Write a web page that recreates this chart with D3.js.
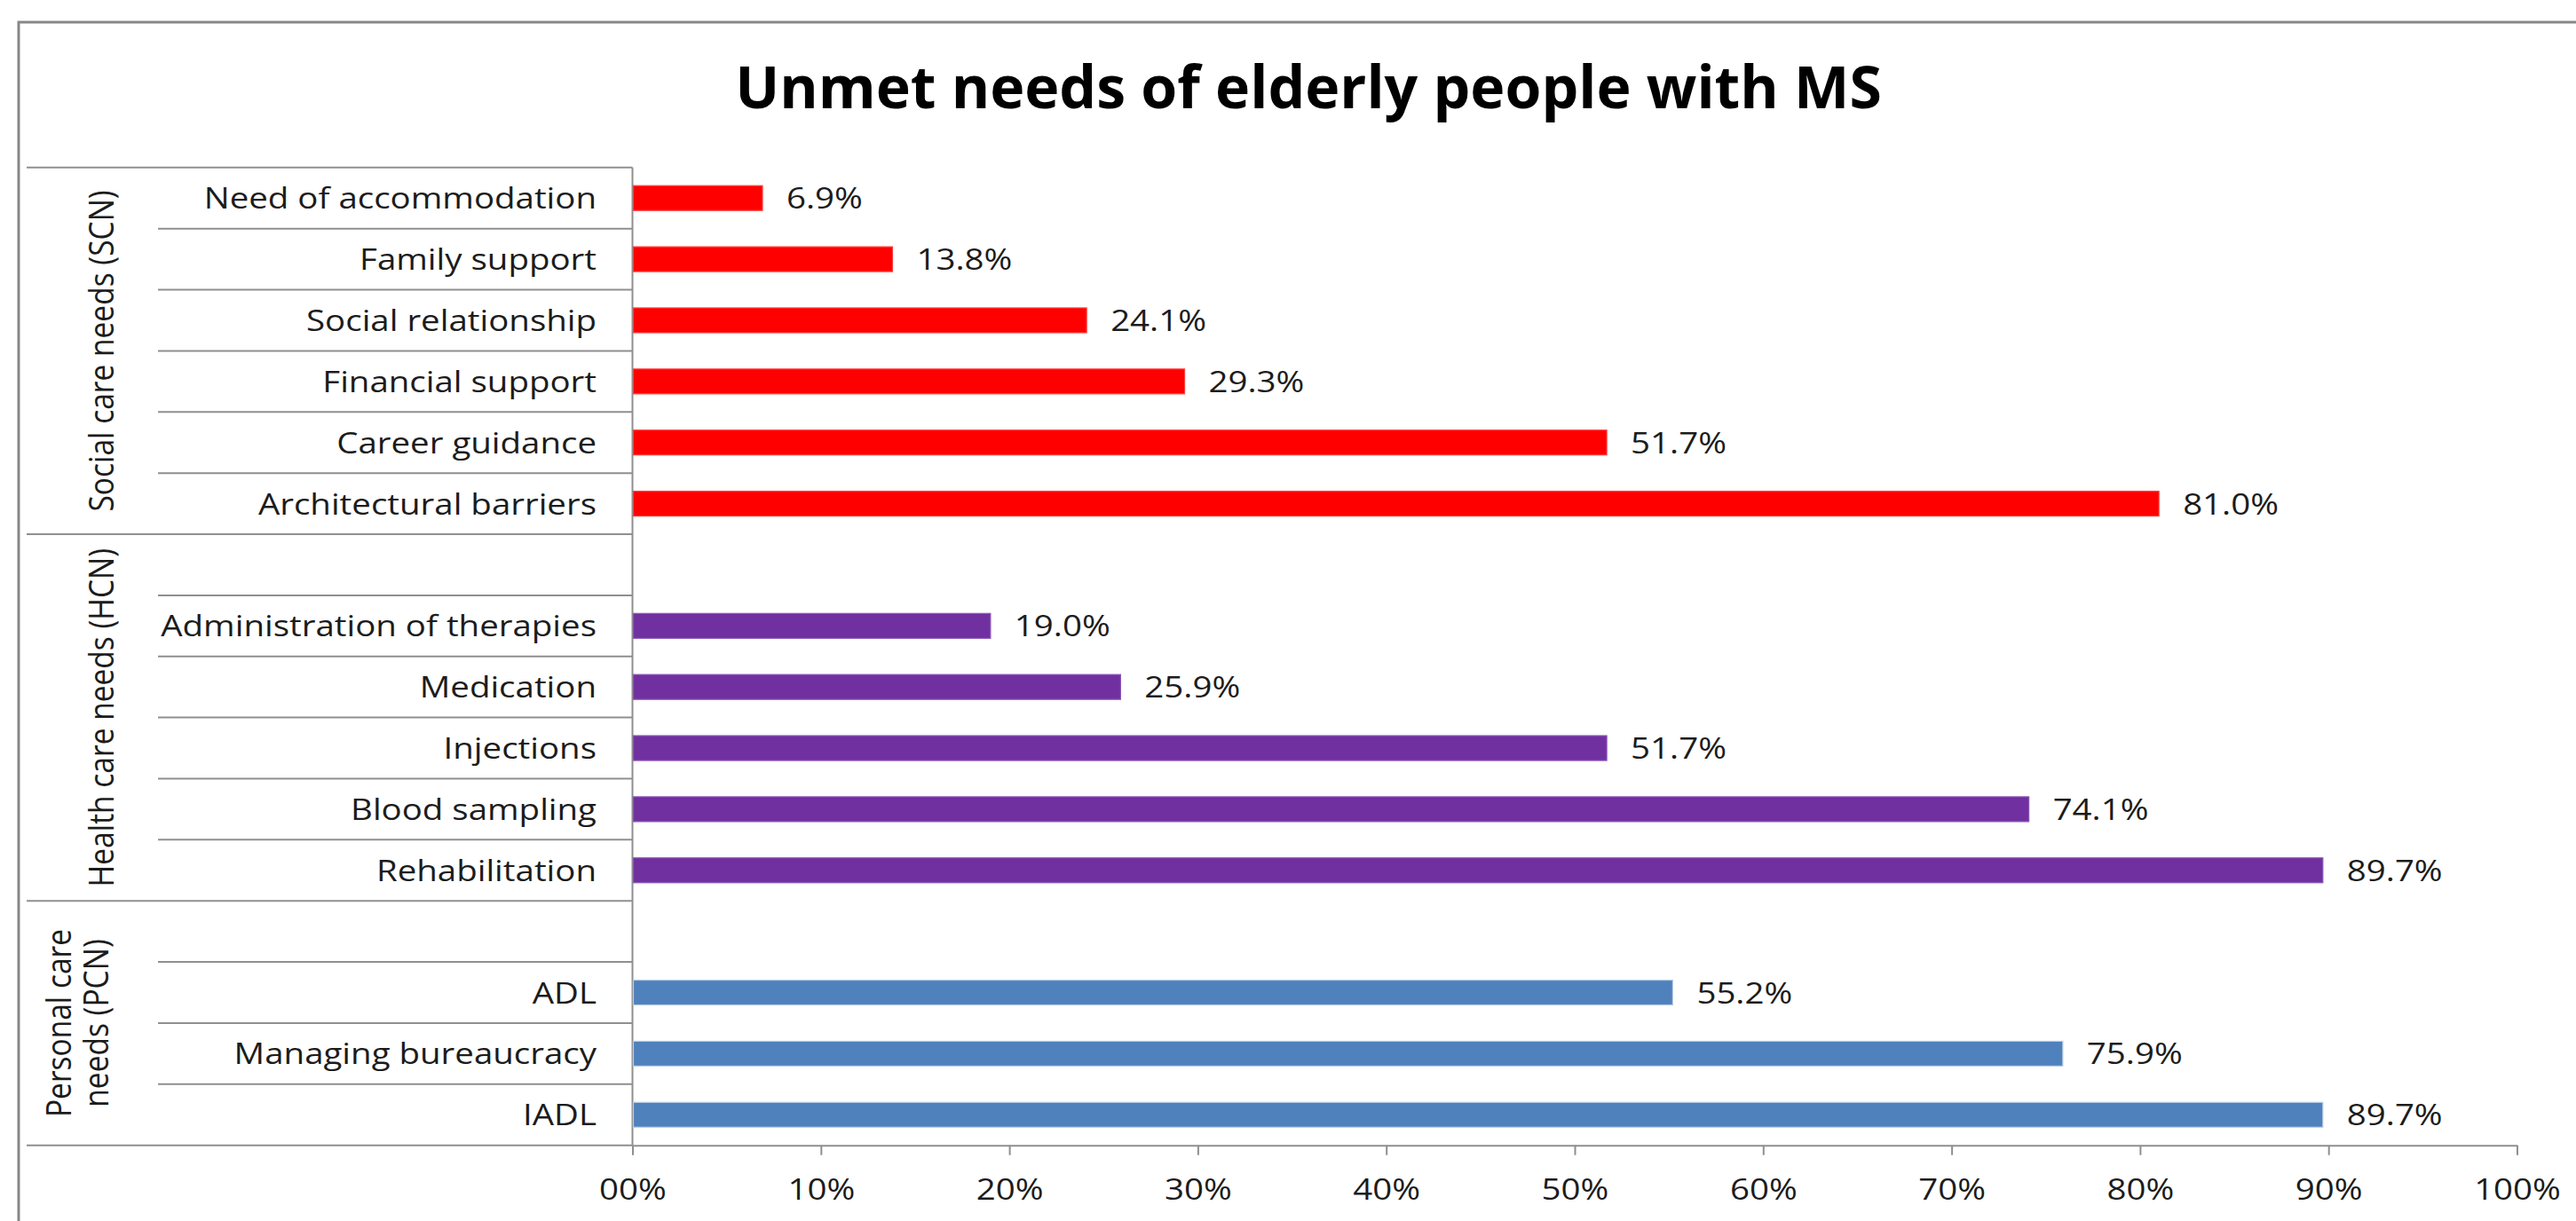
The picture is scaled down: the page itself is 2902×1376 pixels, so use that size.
<!DOCTYPE html>
<html>
<head>
<meta charset="utf-8">
<script src="https://cdn.jsdelivr.net/npm/d3@7"></script>
<style>
  html, body { margin: 0; padding: 0; background: #ffffff; }
  svg { display: block; }
  text { font-family: "Open Sans", "Noto Sans", sans-serif; }
</style>
</head>
<body>
<svg id="chart" width="2902" height="1376"></svg>
<script>
// ---------- data ----------
const title = "Unmet needs of elderly people with MS";
const categories = [
  "Need of accommodation", "Family support", "Social relationship", "Financial support",
  "Career guidance", "Architectural barriers",
  "", "Administration of therapies", "Medication", "Injections", "Blood sampling", "Rehabilitation",
  "", "ADL", "Managing bureaucracy", "IADL"
];
const values = [6.9, 13.8, 24.1, 29.3, 51.7, 81.0, null, 19.0, 25.9, 51.7, 74.1, 89.7, null, 55.2, 75.9, 89.7];
const groupNames = ["Social care needs (SCN)", "Health care needs (HCN)", "Personal care needs (PCN)"];
const groupLines = [["Social care needs (SCN)"], ["Health care needs (HCN)"], ["Personal care", "needs (PCN)"]];
const groupSizes = [6, 6, 4];
const groupColors = ["#FF0000", "#7030A0", "#4F81BD"];
const groupStrokes = ["#FF4040", "#8A55B5", "#B9CDE5"];
const tickValues = [0, 10, 20, 30, 40, 50, 60, 70, 80, 90, 100];
const tickLabels = ["00%", "10%", "20%", "30%", "40%", "50%", "60%", "70%", "80%", "90%", "100%"];

// ---------- layout ----------
const plotTop = 188.8, plotBottom = 1290.7;
const x0 = 712.5, x1 = 2835.5;
const groupColLeft = 30, catLineLeft = 178;
const lineColor = "#8f8f8f";
const textColor = "#1c1c1c";
const fontSize = 33.5;

const svg = d3.select("#chart");

// outer border (cropped at right/bottom)
svg.append("rect")
  .attr("x", 21).attr("y", 25).attr("width", 3200).attr("height", 2000)
  .attr("fill", "none").attr("stroke", "#878787").attr("stroke-width", 3);

const idx = d3.range(categories.length);
const y = d3.scaleBand().domain(idx).range([plotTop, plotBottom]).paddingInner(0).paddingOuter(0);
const x = d3.scaleLinear().domain([0, 100]).range([x0, x1]);

// group index of each category
const groupOf = [];
groupSizes.forEach((n, g) => { for (let k = 0; k < n; k++) groupOf.push(g); });
const groupStart = groupSizes.map((n, g) => d3.sum(groupSizes.slice(0, g)));

// horizontal stretch factor (reference text is horizontally stretched)
const probe = svg.append("text").attr("font-size", fontSize).text("Administration of therapies");
const sx = 491 / probe.node().getComputedTextLength();
probe.remove();

// title
const tProbe = svg.append("text").attr("font-size", 66).attr("font-weight", 700).text(title);
const sxT = 1292 / tProbe.node().getComputedTextLength();
tProbe.remove();
svg.append("text")
  .attr("transform", `translate(1474,122) scale(${sxT},1)`)
  .attr("text-anchor", "middle")
  .attr("font-size", 66).attr("font-weight", 700).attr("fill", "#000")
  .text(title);

// category separator lines (inner) and group boundary lines
const grid = svg.append("g").attr("stroke", lineColor).attr("stroke-width", 2);
idx.forEach(i => {
  const yy = y(i);
  const isGroupStart = groupStart.includes(i);
  grid.append("line")
    .attr("x1", isGroupStart ? groupColLeft : catLineLeft).attr("x2", x0)
    .attr("y1", yy).attr("y2", yy);
});
grid.append("line").attr("x1", groupColLeft).attr("x2", x0).attr("y1", plotBottom).attr("y2", plotBottom);
grid.append("line").attr("x1", x0).attr("x2", x0).attr("y1", plotTop).attr("y2", plotBottom);

// x axis
const axis = svg.append("g")
  .attr("transform", `translate(0,${plotBottom})`)
  .call(d3.axisBottom(x).tickValues(tickValues).tickFormat((d, i) => tickLabels[i]).tickSize(11).tickSizeOuter(0));
axis.select(".domain").attr("stroke", lineColor).attr("stroke-width", 2);
axis.selectAll(".tick line").attr("stroke", lineColor).attr("stroke-width", 2);
axis.selectAll(".tick text")
  .attr("y", 61).attr("dy", 0)
  .attr("transform", `scale(${sx},1)`)
  .attr("font-size", fontSize).attr("font-family", '"Open Sans", sans-serif')
  .attr("fill", textColor);

// bars
const barH = 28;
svg.append("g").selectAll("rect")
  .data(idx.filter(i => values[i] !== null))
  .join("rect")
  .attr("x", x(0) + 1)
  .attr("y", i => y(i) + (y.bandwidth() - barH) / 2)
  .attr("width", i => x(values[i]) - x(0) - 1)
  .attr("height", barH)
  .attr("fill", i => groupColors[groupOf[i]])
  .attr("stroke", i => groupStrokes[groupOf[i]])
  .attr("stroke-width", 1.2);

// value labels
svg.append("g").selectAll("text")
  .data(idx.filter(i => values[i] !== null))
  .join("text")
  .attr("transform", i => `translate(${x(values[i]) + 27},${y(i) + y.bandwidth() / 2 + 12}) scale(${sx},1)`)
  .attr("font-size", fontSize).attr("fill", textColor)
  .text(i => values[i].toFixed(1) + "%");

// category labels
svg.append("g").selectAll("text")
  .data(idx.filter(i => categories[i] !== ""))
  .join("text")
  .attr("transform", i => `translate(672,${y(i) + y.bandwidth() / 2 + 12}) scale(${sx},1)`)
  .attr("text-anchor", "end")
  .attr("font-size", fontSize).attr("fill", textColor)
  .text(i => categories[i]);

// group labels (rotated)
groupNames.forEach((name, g) => {
  const endIdx = groupStart[g] + groupSizes[g];
  const yc = (y(groupStart[g]) + (endIdx < categories.length ? y(endIdx) : plotBottom)) / 2;
  const lines = groupLines[g];
  lines.forEach((ln, k) => {
    const xb = (lines.length === 1 ? 128 : 122) - (lines.length - 1 - k) * 42;
    svg.append("text")
      .attr("transform", `translate(${xb},${yc}) scale(${sx},1) rotate(-90)`)
      .attr("text-anchor", "middle")
      .attr("font-size", fontSize).attr("fill", textColor)
      .text(ln);
  });
});
</script>
</body>
</html>
